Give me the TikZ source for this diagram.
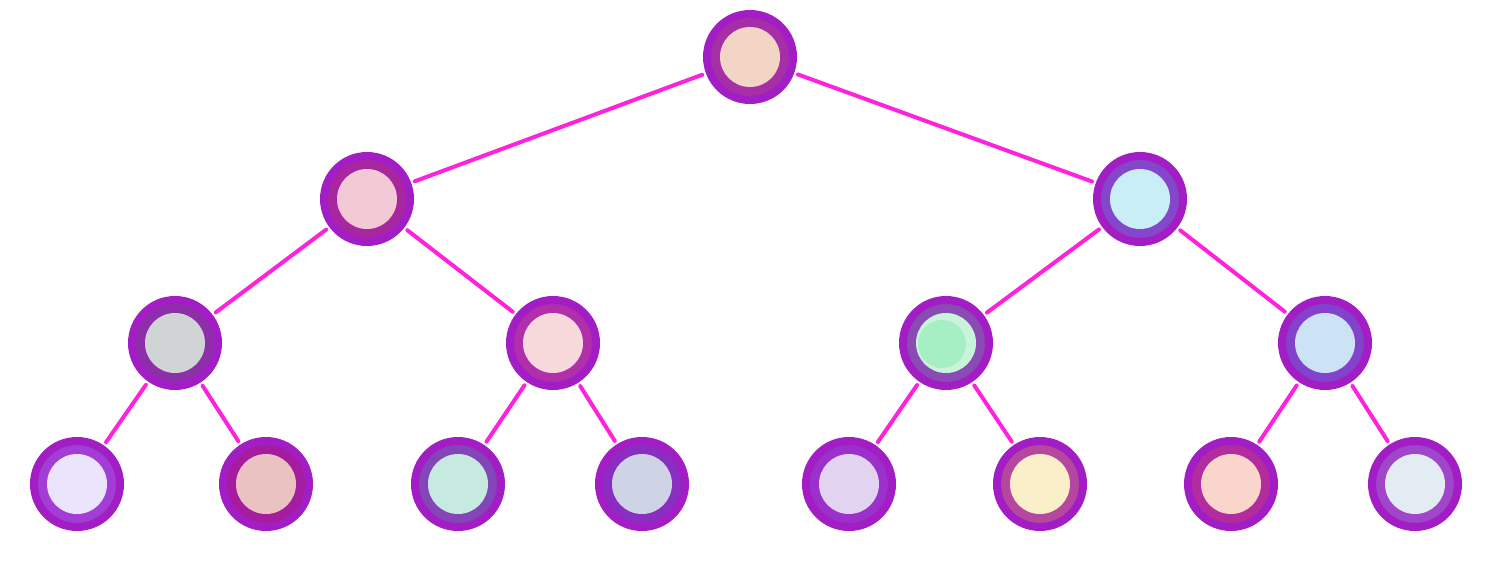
\documentclass[tikz,border=0pt]{standalone}
\usetikzlibrary{calc}
\definecolor{outerp}{HTML}{A21EC4}
\definecolor{edgec}{HTML}{FF22DD}
\tikzset{
  tnode/.style n args={2}{circle, minimum size=86pt, inner sep=0pt, line width=8pt,
    draw=outerp, fill=#1,
    path picture={\fill[#2] (path picture bounding box.center) circle (30pt);}},
  edge/.style={draw=edgec, line width=4pt, line cap=round, shorten <=4pt, shorten >=4pt}
}
\begin{document}
\begin{tikzpicture}[x=1pt,y=-1pt]
\useasboundingbox (0,0) rectangle (1490,574);
\definecolor{r0}{HTML}{A62FA8}\definecolor{f0}{HTML}{F2D5C4}
\definecolor{r1}{HTML}{A8279F}\definecolor{f1}{HTML}{F3C9D6}
\definecolor{r2}{HTML}{8447CC}\definecolor{f2}{HTML}{C9EEF5}
\definecolor{r3}{HTML}{8E2FAA}\definecolor{f3}{HTML}{D1D4D5}
\definecolor{r4}{HTML}{B12FAA}\definecolor{f4}{HTML}{F7D8DB}
\definecolor{r5}{HTML}{8A4BB5}\definecolor{f5}{HTML}{C8F4DC}
\definecolor{g5}{HTML}{A6EEC4}
\definecolor{r6}{HTML}{8342CC}\definecolor{f6}{HTML}{CBE3F5}
\definecolor{r7}{HTML}{A23DD6}\definecolor{f7}{HTML}{EAE4FD}
\definecolor{r8}{HTML}{A61C9E}\definecolor{f8}{HTML}{EBC2C2}
\definecolor{r9}{HTML}{8345B8}\definecolor{f9}{HTML}{C6EAE0}
\definecolor{r10}{HTML}{8A2DC1}\definecolor{f10}{HTML}{CED3E6}
\definecolor{r11}{HTML}{9C30CB}\definecolor{f11}{HTML}{E2D3F1}
\definecolor{r12}{HTML}{B5489E}\definecolor{f12}{HTML}{FBEFC9}
\definecolor{r13}{HTML}{B32C9E}\definecolor{f13}{HTML}{F9D5CB}
\definecolor{r14}{HTML}{A046CB}\definecolor{f14}{HTML}{E3EBF3}

\node[tnode={r0}{f0}] (n0) at (750,57) {};
\node[tnode={r1}{f1}] (n1) at (367,199) {};
\node[tnode={r2}{f2}] (n2) at (1140,199) {};
\node[tnode={r3}{f3}] (n3) at (175,343) {};
\node[tnode={r4}{f4}] (n4) at (553,343) {};
\node[tnode={r5}{f5}, path picture={\fill[f5] (path picture bounding box.center) circle (30pt); \fill[g5] ($(path picture bounding box.center)+(-4,1)$) circle (24pt);}] (n5) at (946,343) {};
\node[tnode={r6}{f6}] (n6) at (1325,343) {};
\node[tnode={r7}{f7}] (n7) at (77,484) {};
\node[tnode={r8}{f8}] (n8) at (266,484) {};
\node[tnode={r9}{f9}] (n9) at (458,484) {};
\node[tnode={r10}{f10}] (n10) at (642,484) {};
\node[tnode={r11}{f11}] (n11) at (849,484) {};
\node[tnode={r12}{f12}] (n12) at (1040,484) {};
\node[tnode={r13}{f13}] (n13) at (1231,484) {};
\node[tnode={r14}{f14}] (n14) at (1415,484) {};

\draw[edge] (n0) -- (n1);
\draw[edge] (n0) -- (n2);
\draw[edge] (n1) -- (n3);
\draw[edge] (n1) -- (n4);
\draw[edge] (n2) -- (n5);
\draw[edge] (n2) -- (n6);
\draw[edge] (n3) -- (n7);
\draw[edge] (n3) -- (n8);
\draw[edge] (n4) -- (n9);
\draw[edge] (n4) -- (n10);
\draw[edge] (n5) -- (n11);
\draw[edge] (n5) -- (n12);
\draw[edge] (n6) -- (n13);
\draw[edge] (n6) -- (n14);
\end{tikzpicture}
\end{document}
